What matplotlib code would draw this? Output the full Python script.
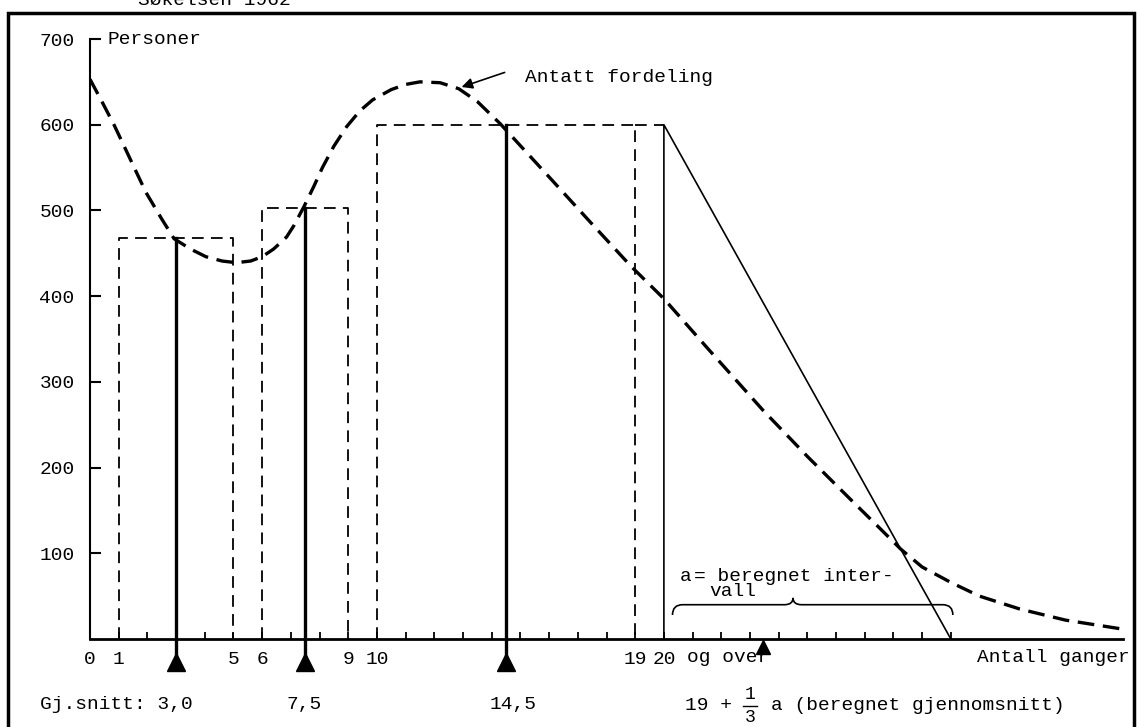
import matplotlib.pyplot as plt
from matplotlib.path import Path
from matplotlib.patches import PathPatch, Rectangle

plt.rcParams['font.family'] = ['Liberation Mono', 'DejaVu Sans Mono']

# assumed distribution (dashed curve)
curve_x = [0, 0.4, 0.85, 1.4, 1.95, 2.5, 2.93, 3.5, 4.04, 4.6, 5.1, 5.6, 6.0, 6.4,
           6.85, 7.1, 7.45, 7.8, 8.1, 8.5, 8.95, 9.4, 9.85, 10.5, 11.0, 11.5, 12.2,
           12.85, 13.5, 14.3, 16, 17.5, 18.85, 20, 21.5, 23.45, 25, 26.5, 27.5, 28.25,
           29, 30, 31, 32.4, 34, 35.9]
curve_y = [653, 628, 599, 560, 521, 490, 467, 455, 446, 441, 439, 441, 446, 455,
           469, 482, 504, 528, 550, 575, 598, 616, 629, 641, 647, 650, 649,
           642, 627, 601, 539, 484, 435, 397, 340, 267, 213, 163, 130, 105,
           84, 66, 50, 35, 22, 12]

# observed intervals (dashed boxes) and their means
box_lo = [1, 6, 10]
box_hi = [5, 9, 19]
box_h = [468, 503, 600]
means = [3.0, 7.5, 14.5]
mean_labels = ['Gj.snitt: 3,0', '7,5', '14,5']

# open class "20 og over"
open_lo = 20
open_hi = 30
open_h = 600
est_mean = 23.45

xtick_pos = [0, 1, 5, 6, 9, 10, 19, 20]
xtick_lab = ['0', '1', '5', '6', '9', '10', '19', '20']
ytick_pos = [100, 200, 300, 400, 500, 600, 700]

fig = plt.figure(figsize=(11.37, 7.27), dpi=100)
ax = fig.add_axes([90 / 1137, 88 / 727, 1033 / 1137, 600 / 727])
ax.set_xlim(0, 36)
ax.set_ylim(0, 700)
for s in ['top', 'right']:
    ax.spines[s].set_visible(False)
ax.spines['left'].set_linewidth(1.5)
ax.spines['bottom'].set_linewidth(2)

ax.set_yticks(ytick_pos)
ax.set_xticks(xtick_pos)
ax.set_xticklabels(xtick_lab)
ax.set_xticks(range(1, 31), minor=True)
ax.tick_params(axis='y', direction='in', length=8, width=1.5, pad=11, labelsize=14)
ax.tick_params(axis='x', which='both', direction='in', length=5, width=1.3, pad=9, labelsize=14)

# dashed boxes
for lo, hi, h in zip(box_lo, box_hi, box_h):
    ax.plot([lo, lo, hi, hi], [0, h, h, 0], color='black', lw=1.3,
            linestyle=(0, (6.5, 4)))
ax.plot([box_hi[2], open_lo], [open_h, open_h], color='black', lw=1.3,
        linestyle=(0, (6.5, 4)))

# open class: vertical + slanted line
ax.plot([open_lo, open_lo, open_hi], [0, open_h, 0], color='black', lw=1.2)

# mean lines with triangles
for m, h in zip(means, box_h):
    ax.plot([m, m], [h, -22], color='black', lw=2.4, clip_on=False)
    ax.plot([m], [-27], marker='^', color='black', markersize=13, clip_on=False)
ax.plot([est_mean], [-9], marker='^', color='black', markersize=10, clip_on=False)

# assumed distribution
ax.plot(curve_x, curve_y, color='black', lw=2.4, linestyle=(0, (5, 2.6)),
        solid_joinstyle='round')

# labels
ax.text(0.6, 700, 'Personer', fontsize=14, va='center', ha='left')
ax.text(15.15, 655, 'Antatt fordeling', fontsize=14, va='center', ha='left')
ax.annotate('', xy=(12.95, 644), xytext=(14.45, 661),
            arrowprops=dict(arrowstyle='-|>', color='black', lw=1.2,
                            mutation_scale=16, shrinkA=0, shrinkB=0))
ax.text(20.8, -21, 'og over', fontsize=14, va='center', ha='left')
ax.text(36.25, -21, 'Antall ganger', fontsize=14, va='center', ha='right')

mean_text_x = [-1.74, 6.86, 13.94]
for tx, lab in zip(mean_text_x, mean_labels):
    ax.text(tx, -76, lab, fontsize=14, va='center', ha='left')

# "19 + 1/3 a (beregnet gjennomsnitt)" with a full-size stacked fraction
ax.text(20.73, -77, '19 +', fontsize=14, va='center', ha='left')
ax.text(23.0, -65, '1', fontsize=13, va='center', ha='center')
ax.plot([22.75, 23.25], [-78, -78], color='black', lw=1.0, clip_on=False)
ax.text(23.0, -92, '3', fontsize=13, va='center', ha='center')
ax.text(23.75, -77, 'a (beregnet gjennomsnitt)', fontsize=14, va='center', ha='left')

# brace for "a = beregnet intervall"
a_start = 20.3
a_end = 30.07
mid = 24.5
by = 40
verts = [(a_start, by - 12), (a_start, by), (a_start + 0.35, by),
         (mid - 0.3, by), (mid, by), (mid, by + 8),
         (mid, by), (mid + 0.3, by),
         (a_end - 0.35, by), (a_end, by), (a_end, by - 12)]
codes = [Path.MOVETO, Path.CURVE3, Path.CURVE3,
         Path.LINETO, Path.CURVE3, Path.CURVE3,
         Path.CURVE3, Path.CURVE3,
         Path.LINETO, Path.CURVE3, Path.CURVE3]
ax.add_patch(PathPatch(Path(verts, codes), facecolor='none', edgecolor='black', lw=1.2))
ax.text(20.56, 73, 'a', fontsize=14, va='center', ha='left')
ax.text(21.05, 73, '= beregnet inter-', fontsize=14, va='center', ha='left')
ax.text(21.6, 55, 'vall', fontsize=14, va='center', ha='left')

# page frame and cut-off heading
fig.patches.append(Rectangle((8 / 1137, -0.1), 1126 / 1137, 1.1 - 13 / 727,
                             transform=fig.transFigure, fill=False,
                             edgecolor='black', lw=2.5))
fig.text(138 / 1137, 1 - 5 / 727, 'Søkelsen 1962', fontsize=14, va='baseline', ha='left')

fig.savefig('out.png', dpi=100)
